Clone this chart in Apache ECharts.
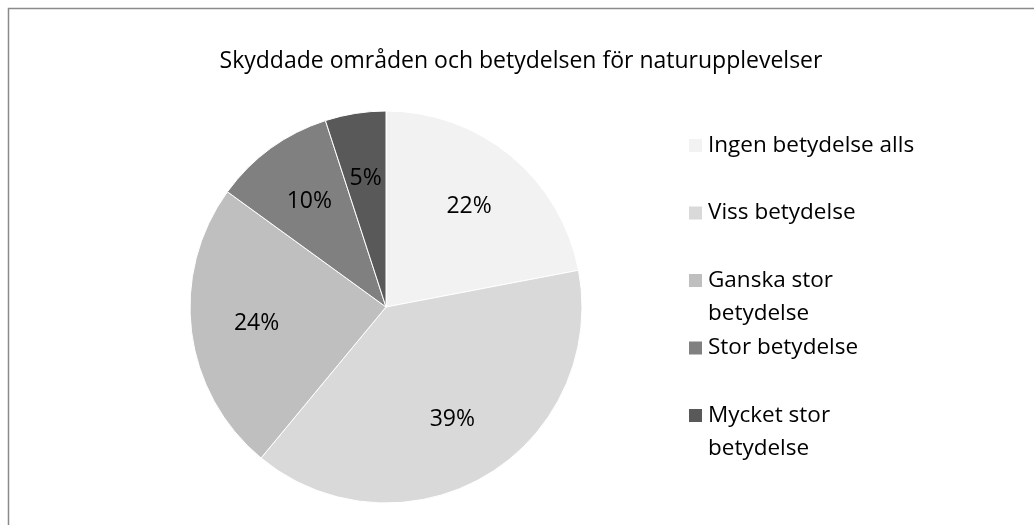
<!DOCTYPE html>
<html>
<head>
<meta charset="utf-8">
<script src="https://cdn.jsdelivr.net/npm/echarts@6/dist/echarts.min.js"></script>
<style>
  html, body { margin: 0; padding: 0; background: #fff; }
  #main { width: 1034px; height: 525px; }
</style>
</head>
<body>
<div id="main"></div>
<script>
// data
const categories = ['Ingen betydelse alls', 'Viss betydelse', 'Ganska stor betydelse', 'Stor betydelse', 'Mycket stor betydelse'];
const legendText = ['Ingen betydelse alls', 'Viss betydelse', 'Ganska stor\nbetydelse', 'Stor betydelse', 'Mycket stor\nbetydelse'];
const shares = [22, 39, 24, 10, 5];
const colors = ['#f2f2f2', '#d9d9d9', '#bfbfbf', '#808080', '#595959'];

const pieData = categories.map((name, i) => ({ name: name, value: shares[i] }));
const font = '"Open Sans", sans-serif';
const center = [386, 307];
const R = 196;

const chart = echarts.init(document.getElementById('main'));
chart.setOption({
  animation: false,
  color: colors,
  title: {
    text: 'Skyddade områden och betydelsen för naturupplevelser',
    left: 516,
    textAlign: 'center',
    top: 45,
    textStyle: { fontFamily: font, fontSize: 23, fontWeight: 'normal', color: '#000' }
  },
  legend: {
    orient: 'vertical',
    left: 682,
    top: 91,
    itemWidth: 15,
    itemHeight: 15,
    itemGap: -31.5,
    icon: 'rect',
    data: categories,
    // every entry takes three lines so the marker sits on the first text line
    formatter: name => {
      const t = legendText[categories.indexOf(name)];
      return ' \n' + (t.indexOf('\n') < 0 ? t + '\n ' : t);
    },
    textStyle: {
      fontFamily: font, fontSize: 22.5, color: '#000', lineHeight: 33
    }
  },
  graphic: [{
    type: 'rect',
    shape: { x: 8.5, y: 8.5, width: 1200, height: 800 },
    style: { fill: 'none', stroke: '#8a8a8a', lineWidth: 1.5 },
    silent: true
  }],
  series: [{
    type: 'pie',
    center: center,
    radius: R,
    startAngle: 90,
    clockwise: true,
    label: { show: false },
    labelLine: { show: false },
    itemStyle: { borderColor: '#fff', borderWidth: 1 },
    emphasis: { disabled: true },
    data: pieData
  }, {
    // label carrier, same slices, labels pushed further out like Excel best fit
    type: 'pie',
    center: center,
    radius: [R * 0.3, R],
    startAngle: 90,
    clockwise: true,
    silent: true,
    itemStyle: { color: 'rgba(0,0,0,0)' },
    emphasis: { disabled: true },
    label: {
      show: true,
      position: 'inside',
      formatter: '{c}%',
      fontFamily: font,
      fontSize: 23,
      color: '#000'
    },
    labelLine: { show: false },
    data: pieData
  }]
});
</script>
</body>
</html>
